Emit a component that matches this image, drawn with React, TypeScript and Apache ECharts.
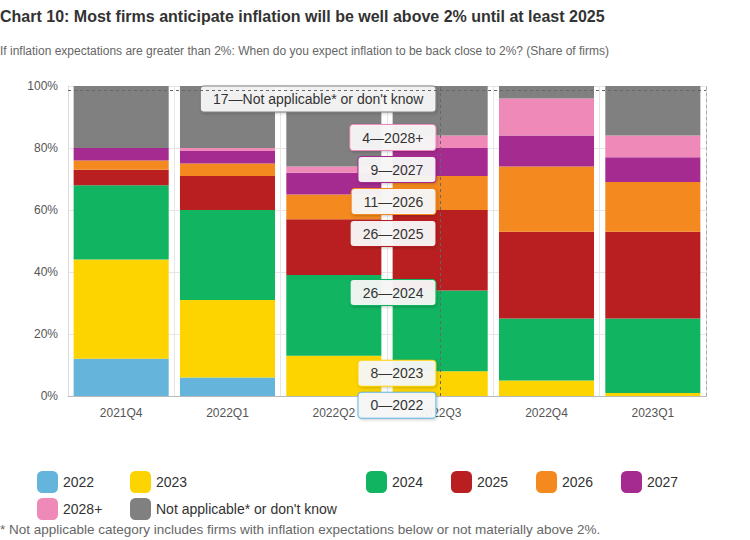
import React, { useEffect, useRef } from "react";
import * as echarts from "echarts";

const categories = ["2021Q4", "2022Q1", "2022Q2", "2022Q3", "2022Q4", "2023Q1"];
const seriesNames = ["2022", "2023", "2024", "2025", "2026", "2027", "2028+", "Not applicable* or don't know"];
const v2022 = [12, 6, 0, 0, 0, 0];
const v2023 = [32, 25, 13, 8, 5, 1];
const v2024 = [24, 29, 26, 26, 20, 24];
const v2025 = [5, 11, 18, 26, 28, 28];
const v2026 = [3, 4, 8, 11, 21, 16];
const v2027 = [4, 4, 7, 9, 10, 8];
const v2028 = [0, 1, 2, 4, 12, 7];
const vNA = [20, 20, 26, 17, 4, 16];
const seriesValues = [v2022, v2023, v2024, v2025, v2026, v2027, v2028, vNA];
const colors = ["#64b4dc", "#fdd300", "#11b460", "#b91f20", "#f3891f", "#a62b90", "#ef8ab8", "#808080"];
const yTicks = [0, 20, 40, 60, 80, 100];
const highlighted = "2022Q3";
const crosshairY = 98.6;

const FONT = "'Liberation Sans', Arial, sans-serif";

const legendPos = [
  [37, 471], [130, 471], [366, 471], [451, 471], [536, 471], [621, 471],
  [37, 498], [130, 498],
];

function buildOption(offsets: number[]) {
  const hiIdx = categories.indexOf(highlighted);
  const series: any[] = seriesNames.map((name, si) => ({
    name,
    type: "bar",
    stack: "total",
    barCategoryGap: "10.6%",
    itemStyle: { color: colors[si] },
    data: seriesValues[si].map((v, i) =>
      i === hiIdx
        ? {
            value: v,
            label: {
              show: true,
              position: ["45%", 0],
              align: "right",
              verticalAlign: "middle",
              offset: [0, offsets[si] || 0],
              formatter: (p: any) => `${p.value}—${p.seriesName}`,
              fontFamily: FONT,
              fontSize: 14,
              color: "#333",
              backgroundColor: "rgba(248,248,248,0.95)",
              borderColor: colors[si],
              borderWidth: 1,
              borderRadius: 3,
              padding: [6, 12, 5, 12],
              shadowColor: "rgba(0,0,0,0.22)",
              shadowBlur: 3,
              shadowOffsetX: 1,
              shadowOffsetY: 1,
            },
          }
        : { value: v }
    ),
  }));
  series[0].markLine = {
    silent: true,
    symbol: "none",
    label: { show: false },
    lineStyle: { color: "#666", type: [3, 3], width: 1 },
    data: [{ yAxis: crosshairY }, { xAxis: highlighted }],
  };
  return {
    animation: false,
    backgroundColor: "#fff",
    textStyle: { fontFamily: FONT },
    title: [
      {
        text: "Chart 10: Most firms anticipate inflation will be well above 2% until at least 2025",
        left: 0,
        top: 8,
        padding: 0,
        textStyle: { fontFamily: FONT, fontSize: 16, fontWeight: "bold", color: "#333" },
      },
      {
        text: "If inflation expectations are greater than 2%: When do you expect inflation to be back close to 2%? (Share of firms)",
        left: 0,
        top: 45,
        padding: 0,
        textStyle: { fontFamily: FONT, fontSize: 12, fontWeight: "normal", color: "#666" },
      },
      {
        text: "* Not applicable category includes firms with inflation expectations below or not materially above 2%.",
        left: 0,
        top: 522,
        padding: 0,
        textStyle: { fontFamily: FONT, fontSize: 13.5, fontWeight: "normal", color: "#666" },
      },
    ],
    legend: seriesNames.map((name, i) => ({
      data: [name],
      left: legendPos[i][0],
      top: legendPos[i][1],
      padding: 0,
      icon: "roundRect",
      itemWidth: 21,
      itemHeight: 22,
      selectedMode: false,
      textStyle: { fontFamily: FONT, fontSize: 14, color: "#333" },
    })),
    grid: { left: 68, right: 44, top: 86, bottom: 144 },
    xAxis: {
      type: "category",
      data: categories,
      axisTick: { show: false },
      axisLine: { lineStyle: { color: "#bbb" } },
      axisLabel: { color: "#555", fontSize: 12, margin: 11, fontFamily: FONT },
      splitLine: { show: true, interval: 0, lineStyle: { color: "#e6e6e6" } },
    },
    yAxis: [
      {
        type: "value",
        min: 0,
        max: 100,
        interval: 20,
        axisLine: { show: true, lineStyle: { color: "#ddd" } },
        axisTick: { show: false },
        axisLabel: {
          color: "#555",
          fontSize: 12,
          margin: 10,
          fontFamily: FONT,
          formatter: (v: number) => (yTicks.includes(v) ? `${v}%` : ""),
        },
        splitLine: { lineStyle: { color: "#e6e6e6" } },
      },
      {
        type: "value",
        position: "right",
        min: 0,
        max: 100,
        interval: 20,
        axisLine: { show: true, lineStyle: { color: "#aaa", type: [3, 3] } },
        axisTick: { show: false },
        axisLabel: { show: false },
        splitLine: { show: false },
      },
    ],
    series,
  };
}

export default function App() {
  const ref = useRef<HTMLDivElement>(null);
  useEffect(() => {
    document.body.style.margin = "0";
    const chart = echarts.init(ref.current!, null, { renderer: "svg" });
    chart.setOption(buildOption([]));
    // Spread the tooltip-like labels (top to bottom), anchored at each segment's top
    const hiIdx = categories.indexOf(highlighted);
    const plotTop = chart.convertToPixel({ yAxisIndex: 0 }, 100) as number;
    const boxH = 26;
    const step = 32;
    const anchors: number[] = [];
    let cum = 0;
    seriesValues.forEach((vals, si) => {
      cum += vals[hiIdx];
      anchors[si] = Math.max(chart.convertToPixel({ yAxisIndex: 0 }, cum) as number, plotTop);
    });
    const offsets: number[] = [];
    let last = -Infinity;
    for (let si = seriesValues.length - 1; si >= 0; si--) {
      let c = Math.max(anchors[si] + 2, plotTop + boxH / 2);
      if (c < last + step) c = last + step;
      offsets[si] = c - anchors[si];
      last = c;
    }
    chart.setOption(buildOption(offsets));
    return () => chart.dispose();
  }, []);
  return <div ref={ref} style={{ width: 750, height: 540 }} />;
}
